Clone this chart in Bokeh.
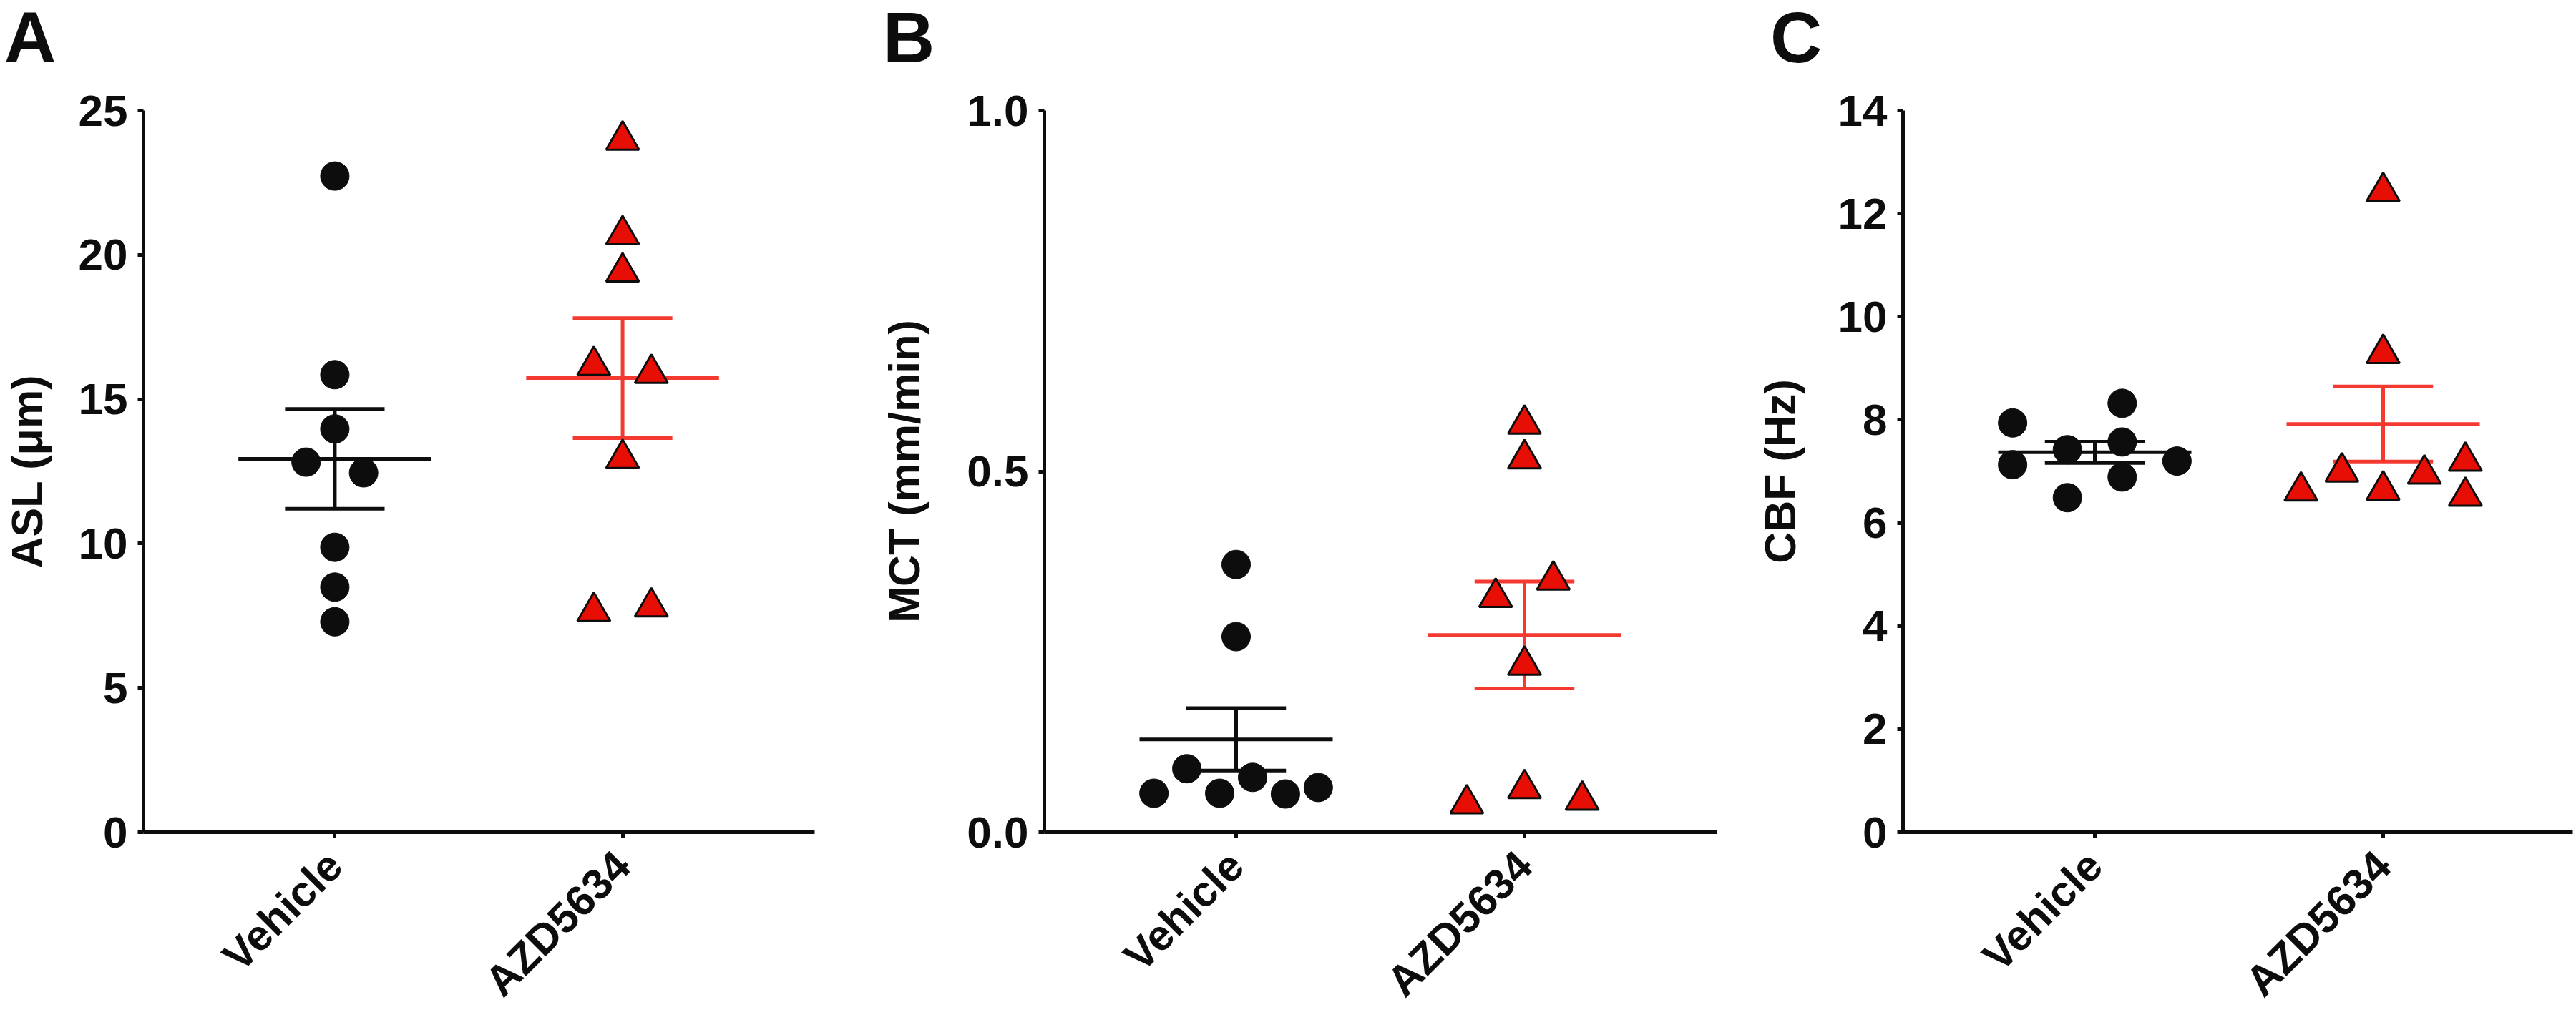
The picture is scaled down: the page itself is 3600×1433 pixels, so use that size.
import math
import numpy as np
from bokeh.plotting import figure
from bokeh.layouts import row, column
from bokeh.models import FixedTicker, Range1d, ColumnDataSource, NumeralTickFormatter, Div
from bokeh.embed import file_html
from bokeh.resources import INLINE

# ---------------- data ----------------
groups = ["Vehicle", "AZD5634"]

asl_vehicle = [22.73, 15.85, 13.97, 12.82, 12.45, 9.87, 8.49, 7.29]
asl_azd = [24.14, 20.86, 19.57, 16.33, 16.06, 13.11, 7.81, 7.97]

mct_vehicle = [0.371, 0.271, 0.054, 0.088, 0.054, 0.076, 0.053, 0.062]
mct_azd = [0.572, 0.524, 0.332, 0.356, 0.238, 0.067, 0.046, 0.051]

cbf_vehicle = [7.94, 7.13, 7.42, 6.49, 8.32, 7.57, 6.89, 7.20]
cbf_azd = [12.52, 9.38, 6.71, 7.08, 6.73, 7.04, 7.29, 6.61]

# horizontal scatter offsets of each point (category units)
asl_vehicle_dx = [0, 0, 0, -0.1, 0.1, 0, 0, 0]
asl_azd_dx = [0, 0, 0, -0.1, 0.1, 0, -0.1, 0.1]
mct_vehicle_dx = [0, 0, -0.285, -0.171, -0.057, 0.057, 0.171, 0.285]
mct_azd_dx = [0, 0, -0.1, 0.1, 0, 0, -0.2, 0.2]
cbf_vehicle_dx = [-0.285, -0.285, -0.095, -0.095, 0.095, 0.095, 0.095, 0.285]
cbf_azd_dx = [0, 0, -0.285, -0.143, 0, 0.143, 0.285, 0.285]

# ---------------- style ----------------
FONT = "Liberation Sans"
BLACK = "#0d0d0d"
RED_FILL = "#e60e05"
RED_LINE = "#f43a30"
DIV_H = 90
FRAME_H = 1009
HEIGHT = 1342
TOP = 64
MEAN_HW = 0.335
CAP_HW = 0.173
TRI_SIZE = 46


def panel(letter, ylabel, ymax, yticks, fmt, veh, azd, veh_dx, azd_dx,
          width, left, right, letter_dx, label_standoff):
    frame_w = width - left - right
    x0 = 1 - 268 / 403.0
    x1 = x0 + frame_w / 403.0
    p = figure(width=width, height=HEIGHT, output_backend="svg",
               toolbar_location=None, x_range=Range1d(x0, x1),
               y_range=Range1d(0, ymax), title=None,
               min_border_left=left, min_border_right=right,
               min_border_top=TOP, min_border_bottom=HEIGHT - TOP - FRAME_H)
    p.outline_line_color = None
    p.grid.visible = False
    p.background_fill_color = "white"
    p.border_fill_color = "white"

    # axes
    for ax in (p.xaxis[0], p.yaxis[0]):
        ax.axis_line_width = 5
        ax.axis_line_color = BLACK
        ax.major_tick_line_width = 5
        ax.major_tick_line_color = BLACK
        ax.major_tick_out = 8
        ax.major_tick_in = 0
        ax.minor_tick_line_color = None
        ax.major_label_text_font = FONT
        ax.major_label_text_font_style = "bold"
        ax.major_label_text_color = BLACK
    p.yaxis.ticker = FixedTicker(ticks=yticks)
    p.yaxis.formatter = NumeralTickFormatter(format=fmt)
    p.yaxis.major_label_text_font_size = "62px"
    p.yaxis.major_label_standoff = 14
    p.yaxis.axis_label = ylabel
    p.yaxis.axis_label_text_font = FONT
    p.yaxis.axis_label_text_font_style = "bold"
    p.yaxis.axis_label_text_font_size = "61px"
    p.yaxis.axis_label_text_color = BLACK
    p.yaxis.axis_label_standoff = label_standoff

    p.xaxis.ticker = FixedTicker(ticks=[1, 2])
    p.xaxis.major_label_overrides = {1: groups[0], 2: groups[1]}
    p.xaxis.major_label_orientation = math.pi / 4
    p.xaxis.major_label_text_font_size = "60px"
    p.xaxis.major_label_standoff = 29

    px_per_unit = FRAME_H / float(ymax)
    tri_shift = (TRI_SIZE * math.sqrt(3) / 2) / 6.0 / px_per_unit

    for gi, (vals, color) in enumerate(((veh, BLACK), (azd, RED_LINE)), start=1):
        arr = np.array(vals, dtype=float)
        m = float(arr.mean())
        sem = float(arr.std(ddof=1) / math.sqrt(len(arr)))
        p.segment(x0=[gi - MEAN_HW, gi - CAP_HW, gi - CAP_HW, gi],
                  x1=[gi + MEAN_HW, gi + CAP_HW, gi + CAP_HW, gi],
                  y0=[m, m + sem, m - sem, m - sem],
                  y1=[m, m + sem, m - sem, m + sem],
                  line_color=color, line_width=5)

    src_v = ColumnDataSource(dict(x=[1 + d for d in veh_dx], y=list(veh)))
    p.scatter(x="x", y="y", source=src_v, marker="circle", size=40,
              fill_color=BLACK, line_color=BLACK, line_width=1)
    # triangle marker is centred on its centroid; shift so its box centre sits on the value
    src_a = ColumnDataSource(dict(x=[2 + d for d in azd_dx],
                                  y=[v - tri_shift for v in azd]))
    p.scatter(x="x", y="y", source=src_a, marker="triangle",
              size=TRI_SIZE, fill_color=RED_FILL, line_color=BLACK, line_width=3)

    div = Div(text=('<div style="font-family:\'Liberation Sans\';font-weight:bold;'
                    'font-size:100px;line-height:100px;color:%s;margin-left:%dpx;'
                    'margin-top:2px;">%s</div>') % (BLACK, letter_dx, letter),
              width=width, height=DIV_H, margin=(0, 0, 0, 0))
    return column(div, p)


pa = panel("A", "ASL (\u03bcm)", 25, [0, 5, 10, 15, 20, 25], "0",
           asl_vehicle, asl_azd, asl_vehicle_dx, asl_azd_dx,
           width=1200, left=198, right=62, letter_dx=6, label_standoff=35)
pb = panel("B", "MCT (mm/min)", 1.0, [0, 0.5, 1.0], "0.0",
           mct_vehicle, mct_azd, mct_vehicle_dx, mct_azd_dx,
           width=1200, left=259, right=1, letter_dx=34, label_standoff=50)
pc = panel("C", "CBF (Hz)", 14, [0, 2, 4, 6, 8, 10, 12, 14], "0",
           cbf_vehicle, cbf_azd, cbf_vehicle_dx, cbf_azd_dx,
           width=1196, left=259, right=1, letter_dx=74, label_standoff=44)

layout = row(pa, pb, pc)
open("out.html", "w").write(file_html(layout, INLINE))
